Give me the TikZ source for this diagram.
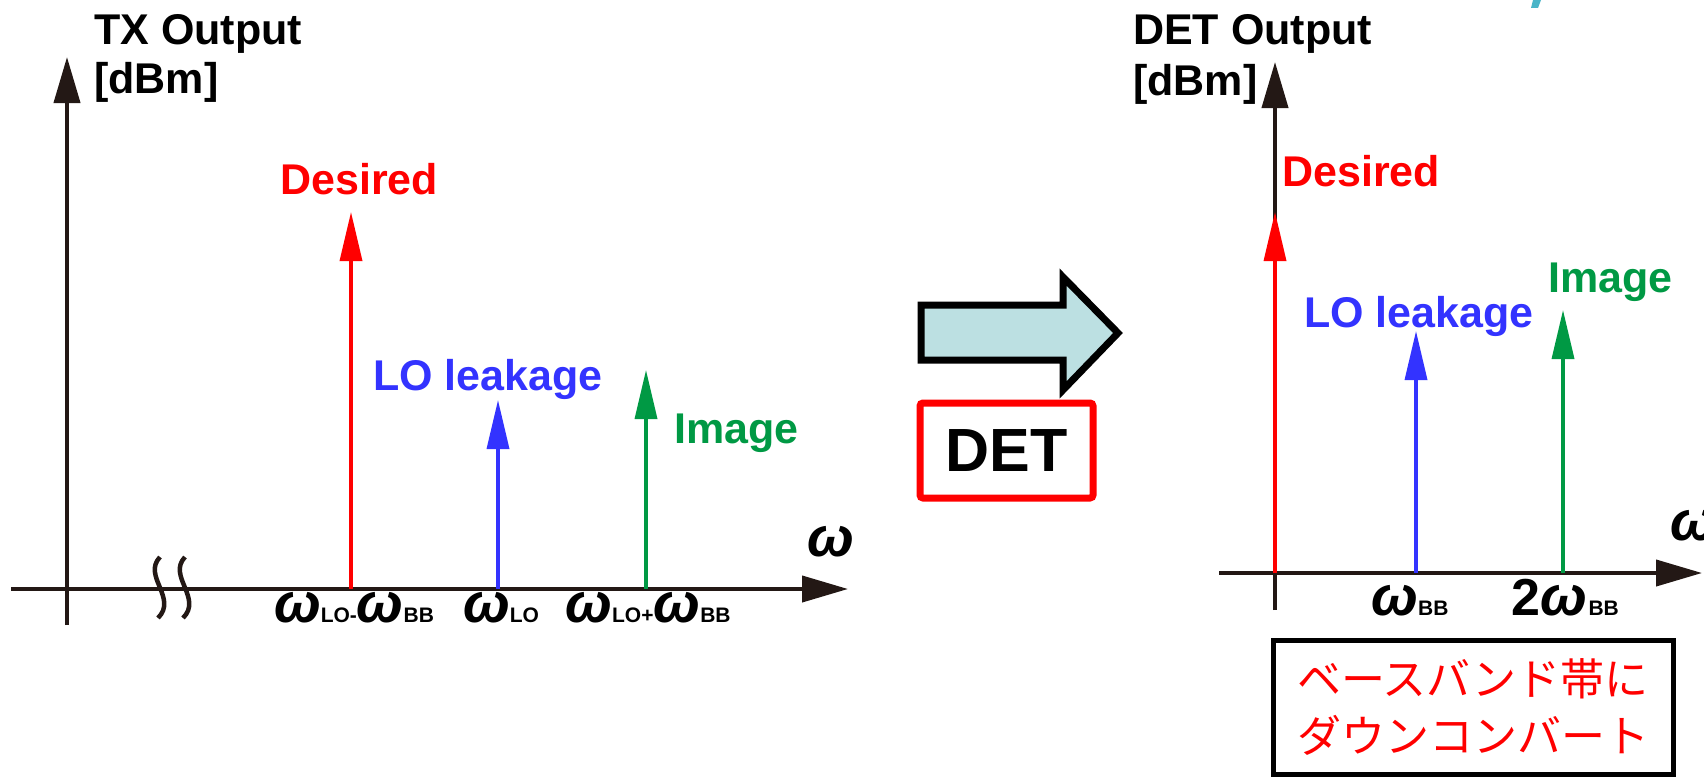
\documentclass[tikz,border=0pt]{standalone}
\usepackage{fontspec}
\setmainfont{Liberation Sans}
\newfontfamily\jp{Noto Sans CJK JP}
\usetikzlibrary{arrows.meta}
\definecolor{axc}{HTML}{231815}
\definecolor{myred}{HTML}{FF0000}
\definecolor{myblue}{HTML}{3333FF}
\definecolor{mygreen}{HTML}{009944}
\definecolor{arrfill}{HTML}{BCE0E2}
\definecolor{tealmark}{HTML}{4AB5C8}
\newcommand{\omg}{{\fontsize{56}{56}\selectfont\bfseries\itshape ω}}
\newcommand{\sbs}[1]{{\fontsize{21}{21}\selectfont\bfseries #1}}
\tikzset{
  axisline/.style={draw=axc, line width=4pt, -{Triangle[length=46pt,width=26pt]}},
  spike/.style={line width=3.5pt, -{Triangle[length=49pt,width=22pt]}},
  lab/.style={font=\bfseries\fontsize{43}{52}\selectfont, anchor=base west, inner sep=0pt, align=left},
  tick/.style={anchor=base, inner sep=0pt},
  brk/.style={draw=axc, line width=4.5pt},
}
\begin{document}
\begin{tikzpicture}[x=1pt,y=-1pt]
\useasboundingbox (0,0) rectangle (1704,776);
% top-right fragment
\fill[tealmark] (1533,0) -- (1541,0) -- (1538,8) -- (1531,8) -- cycle;

% ===== left diagram =====
\coordinate (ly0) at (67,625);
\coordinate (ly1) at (67,57);
\coordinate (lx0) at (11,589);
\coordinate (lx1) at (848,589);
\draw[axisline] (ly0) -- (ly1);
\draw[axisline] (lx0) -- (lx1);
\draw[brk] (160,557) .. controls (142,576) and (178,598) .. (158,618);
\draw[brk] (185,557) .. controls (167,576) and (203,598) .. (183,618);

\coordinate (r0) at (351,589); \coordinate (r1) at (351,212);
\coordinate (b0) at (498,589); \coordinate (b1) at (498,400);
\coordinate (g0) at (646,589); \coordinate (g1) at (646,370);
\draw[spike, myred] (r0) -- (r1);
\draw[spike, myblue] (b0) -- (b1);
\draw[spike, mygreen] (g0) -- (g1);

\node[lab] (txo) at (94,45) {TX Output};
\node[lab] (txd) at (94,93) {[dBm]};
\node[lab, text=myred] (ldes) at (280,194) {Desired};
\node[lab, text=myblue] (llo) at (373,390) {LO leakage};
\node[lab, text=mygreen] (limg) at (674,443) {Image};
\node[tick] (lw) at (831,556) {\omg};
\node[tick] (lt1) at (354,622) {\omg\sbs{LO-}\omg\sbs{BB}};
\node[tick] (lt2) at (501,622) {\omg\sbs{LO}};
\node[tick] (lt3) at (648,622) {\omg\sbs{LO+}\omg\sbs{BB}};

% ===== middle =====
\draw[line width=7pt, fill=arrfill, line join=miter] (921,305) -- (1063,305) -- (1063,277) -- (1118,333) -- (1063,390) -- (1063,360) -- (921,360) -- cycle;
\node[draw=myred, line width=7pt, rounded corners=3pt, minimum width=173pt, minimum height=95pt, inner sep=0pt, font=\bfseries\fontsize{61}{61}\selectfont] (det) at (1006.5,450.5) {DET};

% ===== right diagram =====
\coordinate (ry0) at (1275,610);
\coordinate (ry1) at (1275,62);
\coordinate (rx0) at (1219,573);
\coordinate (rx1) at (1702,573);
\draw[axisline] (ry0) -- (ry1);
\draw[axisline] (rx0) -- (rx1);
\coordinate (rr0) at (1275,573); \coordinate (rr1) at (1275,212);
\coordinate (rb0) at (1416,573); \coordinate (rb1) at (1416,331);
\coordinate (rg0) at (1563,573); \coordinate (rg1) at (1563,310);
\draw[spike, myred] (rr0) -- (rr1);
\draw[spike, myblue] (rb0) -- (rb1);
\draw[spike, mygreen] (rg0) -- (rg1);

\node[lab] (deto) at (1133,45) {DET Output};
\node[lab] (detd) at (1133,95) {[dBm]};
\node[lab, text=myred] (rdes) at (1282,186) {Desired};
\node[lab, text=myblue] (rlo) at (1304,327) {LO leakage};
\node[lab, text=mygreen] (rimg) at (1548,292) {Image};
\node[tick, anchor=base west] (rw) at (1670,540) {\omg};
\node[tick] (rt1) at (1410,615) {\omg\sbs{BB}};
\node[tick] (rt2) at (1565,615) {{\fontsize{52}{52}\selectfont\bfseries 2}\omg\,\sbs{BB}};

\node[draw=black, line width=5pt, minimum width=400pt, minimum height=134pt, inner sep=0pt, text=myred, align=center, font=\jp\fontsize{44}{57}\selectfont] (jbox) at (1473,707) {ベースバンド帯に\\ダウンコンバート};
\end{tikzpicture}
\end{document}
